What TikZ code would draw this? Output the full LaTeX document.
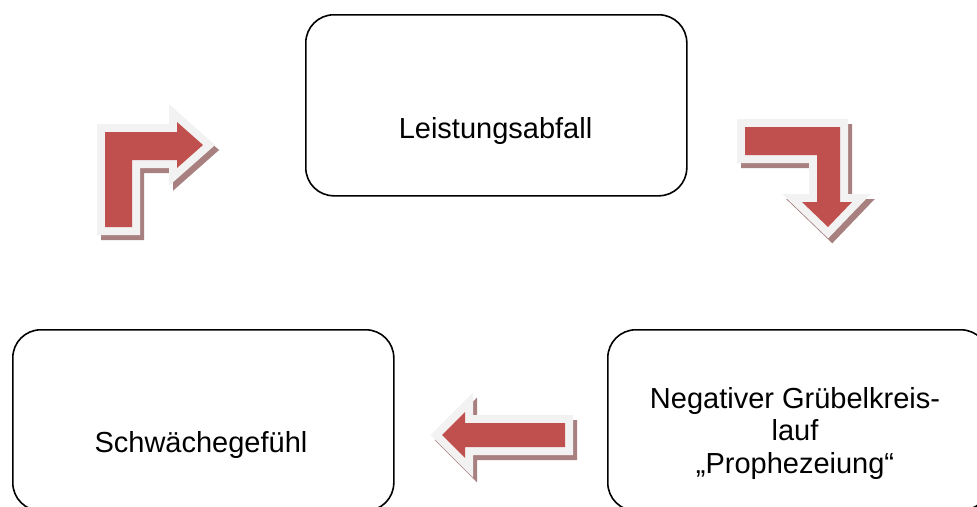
\documentclass[tikz,border=0pt]{standalone}
\usepackage{fontspec}
\setmainfont{Liberation Sans}
\definecolor{arrowred}{HTML}{C0504D}
\definecolor{arrowrim}{HTML}{F2F2F2}
\definecolor{arrowshade}{HTML}{A98080}
\newcommand\blockarrow[1]{%
  \path[arrowshadow] #1;
  \path[arrowrimst] #1;
  \path[arrowbody] #1;}
\begin{document}
\begin{tikzpicture}[x=1pt,y=-1pt,
  box/.style={draw=black,line width=1.6pt,rounded corners=28pt,fill=white,
    minimum width=381pt,minimum height=181pt,anchor=north west,inner sep=0pt},
  lbl/.style={font=\fontsize{29}{32.5}\selectfont,inner sep=0pt,align=center},
  arrowshadow/.style={draw=arrowshade,fill=arrowshade,line width=16pt,line join=miter,shift={(4,5)}},
  arrowrimst/.style={draw=arrowrim,fill=arrowrim,line width=16pt,line join=miter},
  arrowbody/.style={fill=arrowred}]
\useasboundingbox (0,0) rectangle (977,506);
\clip (0,0) rectangle (977,506);
% boxes
\node[box] (top) at (305,14) {};
\node[box] (left) at (12,329) {};
\node[box] (right) at (607,329) {};
% texts
\node[lbl,anchor=base] (ttop) at (495.5,138) {Leistungsabfall};
\node[lbl,anchor=base] (tleft) at (201,452) {Schwächegefühl};
\node[lbl,anchor=center] (tright) at (795,433) {Negativer Grübelkreis-\\lauf\\„Prophezeiung“};
% block arrows
\blockarrow{(105,227) -- (105,132) -- (177,132) -- (177,122) -- (203,145) -- (177,168) -- (177,160) -- (132,160) -- (132,227) -- cycle}
\blockarrow{(745,127) -- (840,127) -- (840,202) -- (852,202) -- (828,227) -- (802,202) -- (817,202) -- (817,155) -- (745,155) -- cycle}
\blockarrow{(565,423) -- (465,423) -- (465,412) -- (442,435) -- (465,458) -- (465,447) -- (565,447) -- cycle}
\end{tikzpicture}
\end{document}
